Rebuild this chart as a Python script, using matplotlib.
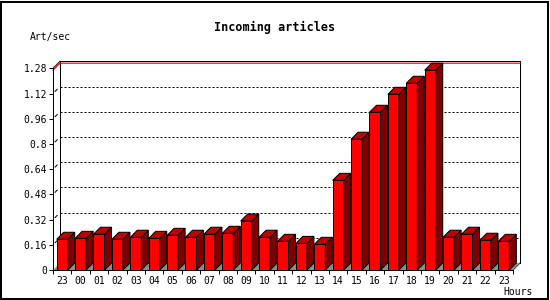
import matplotlib
matplotlib.use('Agg')
import matplotlib.pyplot as plt
from matplotlib.patches import Polygon, Rectangle
import numpy as np

# data
hours = ['23', '00', '01', '02', '03', '04', '05', '06', '07', '08', '09', '10',
         '11', '12', '13', '14', '15', '16', '17', '18', '19', '20', '21', '22', '23']
art_per_sec = [0.195, 0.201, 0.227, 0.195, 0.208, 0.201, 0.220, 0.208, 0.227, 0.233,
               0.311, 0.208, 0.182, 0.169, 0.163, 0.569, 0.830, 1.001, 1.115, 1.185,
               1.268, 0.208, 0.227, 0.189, 0.182]
yticks = [0, 0.16, 0.32, 0.48, 0.64, 0.8, 0.96, 1.12, 1.28]
ytick_labels = ['0', '0.16', '0.32', '0.48', '0.64', '0.8', '0.96', '1.12', '1.28']

W, H, DPI = 550, 300, 100
PT = 72.0 / DPI  # one pixel in points
plt.rcParams['font.family'] = ['DejaVu Sans Mono']

fig = plt.figure(figsize=(W / DPI, H / DPI), dpi=DPI)
ax_w, ax_h = 460, 201.7
ax = fig.add_axes([53 / W, 30 / H, ax_w / W, ax_h / H])
n = len(hours)
ymax = yticks[-1]
ax.set_xlim(0, n)
ax.set_ylim(0, ymax)

# 3d depth offset, px -> data units
depth = 7
dx = depth * n / ax_w
dy = depth * ymax / ax_h
lw = PT

# back wall frame + corner diagonals
ax.plot([dx, dx, n + dx, n + dx], [dy, ymax + dy, ymax + dy, dy],
        color='black', lw=lw, clip_on=False, zorder=1)
ax.plot([0, dx], [ymax, ymax + dy], color='black', lw=lw, clip_on=False, zorder=1)
ax.plot([n, n + dx], [0, dy], color='black', lw=lw, clip_on=False, zorder=1)

# dotted grid on the back wall
for t in yticks[1:-1]:
    ax.plot([dx, n + dx], [t + dy, t + dy], color='black', lw=lw,
            ls=(0, (2, 2)), clip_on=False, zorder=1)
    ax.plot([dx * 0.3, dx * 0.6], [t + dy * 0.3, t + dy * 0.6], color='black',
            lw=lw, clip_on=False, zorder=1)

# max line
m = max(art_per_sec)
ax.plot([0, dx, n + dx], [m, m + dy, m + dy], color='#ff0000', lw=lw * 1.2,
        clip_on=False, zorder=1.5)

# floor
ax.add_patch(Polygon([(0, 0), (n, 0), (n + dx, dy), (dx, dy)], closed=True,
                     facecolor='#8c8c8c', edgecolor='none',
                     clip_on=False, zorder=2))

# bars: front faces through ax.bar, sides/tops as polygons
xs = np.arange(n) + 0.5
bw = 0.6
ax.bar(xs, art_per_sec, width=bw, color='#ff0000', edgecolor='black',
       lw=lw, zorder=3, clip_on=False)
for x, v in zip(xs, art_per_sec):
    x0, x1 = x - bw / 2, x + bw / 2
    side = [(x1, 0), (x1, v), (x1 + dx, v + dy), (x1 + dx, dy)]
    top = [(x0, v), (x1, v), (x1 + dx, v + dy), (x0 + dx, v + dy)]
    ax.add_patch(Polygon(side, closed=True, facecolor='#800000',
                         edgecolor='black', lw=lw, clip_on=False, zorder=3))
    ax.add_patch(Polygon(top, closed=True, facecolor='#c00000',
                         edgecolor='black', lw=lw, clip_on=False, zorder=3))

# axes styling
for s in ['top', 'right']:
    ax.spines[s].set_visible(False)
for s in ['left', 'bottom']:
    ax.spines[s].set_linewidth(lw)
    ax.spines[s].set_zorder(4)
ax.patch.set_visible(False)

ax.set_yticks(yticks, ytick_labels)
ax.set_xticks(np.arange(n + 1), [''] * (n + 1))
ax.set_xticks(xs, hours, minor=True)
ax.tick_params(axis='both', which='major', length=4 * PT, width=lw,
               pad=2 * PT, labelsize=7)
ax.tick_params(axis='x', which='minor', length=0, pad=6 * PT, labelsize=7)

fig.text(275 / W, 1 - 27 / H, 'Incoming articles', ha='center', va='center',
         fontsize=8.5, fontweight='bold')
fig.text(30 / W, 1 - 37 / H, 'Art/sec', ha='left', va='center', fontsize=7)
fig.text(533 / W, 1 - 292 / H, 'Hours', ha='right', va='center', fontsize=7)

# outer border
fig.add_artist(Rectangle((1 / W, 1 / H), 547 / W, 297 / H, transform=fig.transFigure,
                         fill=False, edgecolor='black', lw=2 * PT))

fig.savefig('out.png', dpi=DPI)
